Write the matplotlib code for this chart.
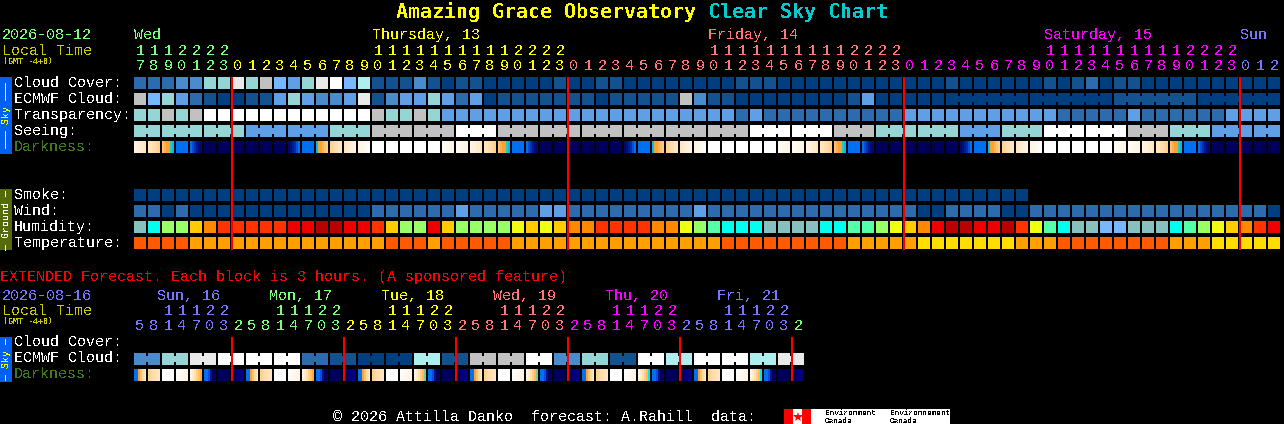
import matplotlib
matplotlib.use("Agg")
import matplotlib.pyplot as plt

plt.rcParams['text.antialiased'] = False
plt.rcParams['font.family'] = ['Liberation Mono', 'DejaVu Sans Mono']
plt.rcParams['text.hinting'] = 'native'

# cloud style scale, darkest blue to white
scale = ['#003f7f', '#13528f', '#2c6cac', '#4a8bcb', '#5f9fe5', '#77b7ff',
         '#95d5d5', '#aeeeee', '#c1c1c1', '#e9e9e9', '#ffffff']
hum_colors = ['#77b7ff', '#88c0c0', '#00ffee', '#55ffaa', '#99ff66', '#eeff11',
              '#ffcc00', '#ff8800', '#ff3300', '#ee0000', '#bb0000']
temp_colors = ['#ff5a00', '#ffa000', '#ffdd00']
day_colors = ['#77ff77', '#ffff00', '#ff7777', '#ff00ff', '#7777ff']

hours = [17, 18, 19, 20, 21, 22, 23,
         0, 1, 2, 3, 4, 5, 6, 7, 8, 9, 10, 11, 12, 13, 14, 15, 16, 17, 18, 19, 20, 21, 22, 23,
         0, 1, 2, 3, 4, 5, 6, 7, 8, 9, 10, 11, 12, 13, 14, 15, 16, 17, 18, 19, 20, 21, 22, 23,
         0, 1, 2, 3, 4, 5, 6, 7, 8, 9, 10, 11, 12, 13, 14, 15, 16, 17, 18, 19, 20, 21, 22, 23,
         0, 1, 2]
hour_day = [0]*7 + [1]*24 + [2]*24 + [3]*24 + [4]*3
day_names = ['Wed', 'Thursday, 13', 'Friday, 14', 'Saturday, 15', 'Sun']
day_cells = [0, 17, 41, 65, 79]

cloud = [2, 2, 2, 3, 3, 6, 6, 9, 6, 8, 5, 4, 6, 9, 10, 5, 7, 1, 1, 1, 3,
         1, 0, 1, 1, 0, 0, 0, 0, 0, 1,
         0, 0, 1, 1, 0, 0, 0, 0, 0, 0, 0, 0, 1, 1, 1, 0, 0, 0, 0, 0, 0,
         0, 0, 0, 0, 0, 0, 1, 0, 0, 0, 0, 0, 0, 1, 0, 1, 2, 0, 1, 1,
         0, 0, 0, 0, 0, 0, 0, 0, 0, 0]
ecmwf = [8, 5, 6, 4, 2, 1, 0, 0, 1, 1, 4, 6, 4, 3, 3, 4, 9, 1, 3, 4, 4,
         6, 4, 2, 4, 0, 1, 1, 1, 1, 1,
         1, 1, 0, 1, 1, 1, 1, 1, 8, 3, 1, 1, 0, 0, 0, 0, 0, 0, 0, 0, 1,
         4, 0, 0, 0, 0, 0,
         0, 0, 0, 0, 0, 0, 0, 0, 0, 0, 0, 0, 1, 1, 1, 1, 1, 1, 0, 0, 0, 0, 0, 0]
transparency = [6, 6, 8, 6, 8, 10, 10, 10, 10, 10, 10, 10, 10, 10, 10, 10, 10, 8, 6, 6, 8,
                6, 4, 4, 4, 4, 4, 4, 4, 4, 4, 4, 4, 4, 4, 4, 4, 4, 4, 4, 4, 4, 4,
                2, 4, 2, 2, 2, 2, 2, 2, 2, 2, 2, 2,
                4, 4, 4, 4, 4, 4, 4, 4, 4, 4, 4,
                2, 2, 2, 2, 2, 4, 2, 2, 2, 2, 2, 2, 4, 4, 4, 4]
seeing_blocks = [6, 6, 6, 4, 4, 6, 8, 8, 10, 8, 8, 8, 8, 8, 8, 10, 10, 8,
                 6, 6, 4, 6, 10, 10, 8, 6, 4, 4]
seeing_lengths = [2, 3, 3, 3, 3, 3, 3, 3, 3, 3, 3, 3, 3, 3, 3, 3, 3, 3,
                  3, 3, 3, 3, 3, 3, 3, 3, 3, 2]
# hourly darkness, one code per block (see strips below)
darkness = list("BADSGNNNNNNHSTabcWWWWWCCBA"
                "DSGNNNNNNHSTabcWWWWWCCBA"
                "DSGNNNNNNHSTabcWWWWWCCBA"
                "DSGNNNNN")
smoke = [0] * 64
wind = [2, 2, 0, 2, 0, 0, 0, 0, 0, 0, 0, 0, 0, 0, 0, 0, 0, 2, 2, 2, 2,
        2, 2, 4, 2, 2, 2, 2, 2, 4, 4,
        2, 2, 2, 2, 2, 2, 2, 2, 2, 4, 2, 2, 2, 2, 2, 2, 2, 2, 2, 2, 2,
        2, 2, 2, 2, 0, 0, 2, 2, 2, 2, 0, 0,
        2, 2, 2, 2, 2, 2, 2, 2, 2, 2, 2, 2, 2, 2, 2, 2, 2, 0]
humidity = [1, 2, 4, 4, 6, 7, 8, 8, 8, 8, 8, 9, 9, 10, 10, 9, 9, 8, 6, 4, 4,
            9, 6, 4, 4, 4, 4, 5, 6, 5, 6,
            7, 7, 8, 8, 8, 8, 7, 7, 5, 4, 3, 2, 2, 2, 1, 1, 1, 1, 2, 2, 3,
            3, 4, 5, 6, 7, 9, 10, 10, 9, 9, 10, 8, 5, 3, 2, 1, 1, 0, 0,
            1, 1, 1, 2, 3, 4, 5, 6, 7, 8, 9]
temperature = [0, 0, 0, 0, 1, 1, 1, 1, 1, 1, 1, 1, 1, 1, 1, 1, 1, 1, 0, 0, 0,
               1, 0, 0, 0, 0, 0, 1, 1, 1, 1,
               1, 1, 1, 1, 1, 1, 1, 1, 1, 1, 1, 0, 0, 0, 0, 0, 0, 0, 0, 0, 1,
               1, 1, 1, 1, 2, 2, 2, 2, 2, 2, 2, 1, 1, 1,
               0, 0, 0, 0, 0, 0, 0, 0, 1, 1, 1, 2, 2, 2, 2, 2]

ext_hours = [5, 8, 11, 14, 17, 20, 23,
             2, 5, 8, 11, 14, 17, 20, 23,
             2, 5, 8, 11, 14, 17, 20, 23,
             2, 5, 8, 11, 14, 17, 20, 23,
             2, 5, 8, 11, 14, 17, 20, 23,
             2, 5, 8, 11, 14, 17, 20, 23,
             2]
ext_hour_day = [4]*7 + [0]*8 + [1]*8 + [2]*8 + [3]*8 + [4]*8 + [0]
ext_day_names = ['Sun, 16', 'Mon, 17', 'Tue, 18', 'Wed, 19', 'Thu, 20', 'Fri, 21']
ext_day_colors = [4, 0, 1, 2, 3, 4]
ext_ecmwf = [3, 6, 9, 10, 10, 10, 2, 1, 0, 0, 7, 1,
             8, 8, 10, 3, 6, 1, 10, 7, 10, 10, 7, 9]
ext_darkness = list("EaWCQVNX" "EaWCQVNX" "EaWCRVNX" "EaWCRVNX" "EaWCUVNX" "EaWCUVNX")

# six stripes for each darkness code
strips = {
    'W': ['#ffffff'] * 6,
    'N': ['#00005c'] * 6,
    'S': ['#0070f0'] * 6,
    'G': ['#0070f0', '#0050d8', '#0030b0', '#001890', '#000c78', '#000868'],
    'H': ['#000868', '#000c78', '#001890', '#0030b0', '#0050d8', '#0070f0'],
    'D': ['#ffc070', '#ffae48', '#ffa030', '#f0a830', '#30c8b0', '#00b8ff'],
    'T': ['#00b8ff', '#f0a830', '#ffa030', '#ffb450', '#ffc070', '#ffcc88'],
    'a': ['#ffd190', '#ffd79c', '#ffdcaa', '#ffe0b4', '#ffe4bc', '#ffe6c0'],
    'b': ['#ffe6c0', '#ffe9c8', '#ffecd0', '#ffefd8', '#fff1dd', '#fff3e2'],
    'c': ['#fff3e2', '#fff5e6', '#fff7ea', '#fff8ee', '#fffaf2', '#fffcf8'],
    'A': ['#ffe6c0', '#ffe4bc', '#ffe0b4', '#ffdcaa', '#ffd79c', '#ffd190'],
    'B': ['#fff3e2', '#fff1dd', '#ffefd8', '#ffecd0', '#ffe9c8', '#ffe6c0'],
    'C': ['#fffcf8', '#fffaf2', '#fff8ee', '#fff7ea', '#fff5e6', '#fff3e2'],
    'E': ['#0070f0', '#0070f0', '#ffa030', '#ffc070', '#ffd9a0', '#ffe6c0'],
    'Q': ['#fff3e2', '#ffecd0', '#ffe0b0', '#ffd090', '#ffc070', '#ffa838'],
    'R': ['#fff3e2', '#ffecd0', '#ffe0b0', '#ffd090', '#ffb860', '#70d090'],
    'U': ['#fff3e2', '#ffecd0', '#ffe0b0', '#ffd090', '#ffb860', '#00e8e8'],
    'V': ['#0070f0', '#0070f0', '#0050d8', '#00108c', '#00005c', '#00005c'],
    'X': ['#00005c', '#00005c', '#000070', '#000080', '#000080', '#000070'],
}

x0 = 134
pitch = 14
side = 12

fig = plt.figure(figsize=(12.84, 4.24), dpi=100, facecolor='black')
ax = fig.add_axes([0, 0, 1, 1])
ax.set_xlim(0, 1284)
ax.set_ylim(424, 0)
ax.axis('off')


def box(x, y, w, h, color):
    ax.bar(x, h, width=w, bottom=y, align='edge', color=color, linewidth=0, antialiased=False)


def row(y, values, colors, links=()):
    for i, v in enumerate(values):
        box(x0 + i*pitch, y, side, side, colors[v])
    for i in links:
        box(x0 + i*pitch + side, y + 3, pitch - side, 6, colors[values[i]])


def dark_row(y, codes):
    for i, c in enumerate(codes):
        for k, col in enumerate(strips[c]):
            box(x0 + i*pitch + k*2, y, 2, side, col)


def label(x, y, s, color, size=10.8, **kw):
    ax.text(x, y, s, color=color, fontsize=size, va='baseline', **kw)


def hour_digits(base, hrs, hr_days):
    for i, h in enumerate(hrs):
        col = day_colors[hr_days[i]]
        cx = x0 + i*pitch + 6
        if h >= 10:
            label(cx, base - 15, str(h // 10), col, ha='center')
        label(cx, base, str(h % 10), col, ha='center')


# title
label(396, 18, 'Amazing Grace Observatory', '#ffff00', size=14.4, fontweight='bold', family='DejaVu Sans Mono')
label(708, 18, 'Clear Sky Chart', '#00cccc', size=14.4, fontweight='bold', family='DejaVu Sans Mono')

# main chart header
label(2, 39, '2026-08-12', '#77ff77')
label(2, 55, 'Local Time', '#cccc00')
label(3, 64, '(GMT -4+0)', '#cccc00', size=6, family='DejaVu Sans Mono')
for name, cell, col in zip(day_names, day_cells, day_colors):
    label(x0 + cell*pitch, 39, name, col)
hour_digits(70, hours, hour_day)

# sky rows
seeing = []
seeing_links = []
for v, n in zip(seeing_blocks, seeing_lengths):
    seeing_links += list(range(len(seeing), len(seeing) + n - 1))
    seeing += [v] * n

row(77, cloud, scale)
row(93, ecmwf, scale, links=[i for i in range(58, 81) if (i - 57) % 6 != 0])
row(109, transparency, scale)
row(125, seeing, scale, links=seeing_links)
dark_row(141, darkness)

# ground rows
row(189, smoke, scale)
row(205, wind, scale)
row(221, humidity, hum_colors)
row(237, temperature, temp_colors)

for name, y, col in [('Cloud Cover:', 87, 'white'), ('ECMWF Cloud:', 103, 'white'),
                     ('Transparency:', 119, 'white'), ('Seeing:', 135, 'white'),
                     ('Darkness:', 151, '#3d7a1e'), ('Smoke:', 199, 'white'),
                     ('Wind:', 215, 'white'), ('Humidity:', 231, 'white'),
                     ('Temperature:', 247, 'white')]:
    label(14, y, name, col)

box(0, 77, 12, 77, '#0060f0')
box(0, 189, 12, 61, '#556b0a')
ax.text(6, 115.5, '\u2014\u2014\u2014 Sky \u2014\u2014\u2014', color='#ffff00', fontsize=7.2, rotation=90, ha='center', va='center')
ax.text(6, 219.5, '\u2014 Ground \u2014', color='white', fontsize=7.2, rotation=90, ha='center', va='center')

# midnight lines
for x in [232, 568, 904, 1240]:
    box(x - 1, 77, 2, 173, '#ff0000')

# extended forecast
label(0, 281, 'EXTENDED Forecast. Each block is 3 hours. (A sponsored feature)', '#ff0000')
label(2, 300, '2026-08-16', '#7777ff')
label(2, 315, 'Local Time', '#cccc00')
label(3, 324, '(GMT -4+0)', '#cccc00', size=6, family='DejaVu Sans Mono')
for i, (name, c) in enumerate(zip(ext_day_names, ext_day_colors)):
    label(157 + i*112, 300, name, day_colors[c])
hour_digits(330, ext_hours, ext_hour_day)

ext_cells = []
for v in ext_ecmwf:
    ext_cells += [v, v]
row(353, ext_cells, scale, links=range(0, 48, 2))
dark_row(369, ext_darkness)

label(14, 346, 'Cloud Cover:', 'white')
label(14, 362, 'ECMWF Cloud:', 'white')
label(14, 378, 'Darkness:', '#3d7a1e')

box(0, 337, 12, 45, '#0060f0')
ax.text(6, 359.5, '\u2014 Sky \u2014', color='#ffff00', fontsize=7.2, rotation=90, ha='center', va='center')

for x in [232, 344, 456, 568, 680, 792]:
    box(x - 1, 337, 2, 44, '#ff0000')

# footer and data source logo
label(333, 421, '\u00a9 2026 Attilla Danko  forecast: A.Rahill  data:', 'white')
box(784, 409, 166, 15, 'white')
box(784, 409, 9, 15, '#ff0000')
box(802, 409, 9, 15, '#ff0000')
ax.plot([797.5], [416.5], marker='*', markersize=7, color='#ff0000', markeredgewidth=0)
for x, word in [(825, 'Environment'), (890, 'Environnement')]:
    label(x, 415, word, 'black', size=5.5)
    label(x, 423, 'Canada', 'black', size=5.5)

fig.savefig('out.png', dpi=100, facecolor='black')
